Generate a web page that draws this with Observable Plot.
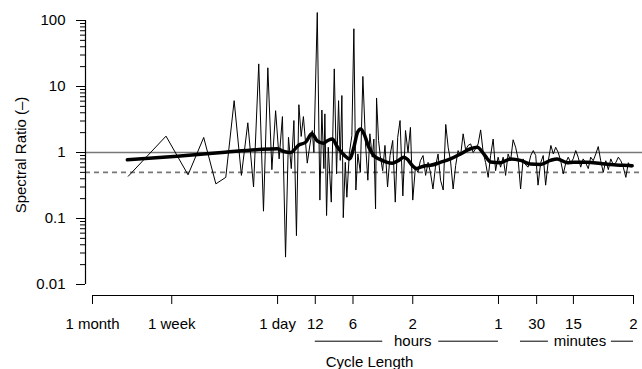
<!DOCTYPE html>
<html><head><meta charset="utf-8">
<script src="https://cdn.jsdelivr.net/npm/d3@7"></script>
<script src="https://cdn.jsdelivr.net/npm/@observablehq/plot@0.6"></script>
<style>html,body{margin:0;padding:0;background:#fff}</style>
</head><body><div id="chart"></div>
<script>
// x = frequency in cycles per day (log axis), y = spectral ratio (log axis)
const xTickValues = [0.0333, 0.1429, 1, 2, 4, 12, 58, 117, 230, 694];
const xTickLabels = ["1 month", "1 week", "1 day", "12", "6", "2", "1", "30", "15", "2"];
const yTickValues = [0.01, 0.1, 1, 10, 100];
const yTickLabels = ["0.01", "0.1", "1", "10", "100"];
const refLevels = [1, 0.5];
const unitLabels = ["hours", "minutes"];
const xTitle = "Cycle Length";
const yTitle = "Spectral Ratio (\u2013)";

// raw spectral ratio (thin line)
const thinFreq = [
  0.0643, 0.1286, 0.1929, 0.2572, 0.3215, 0.3858, 0.4501, 0.5144, 0.5787, 0.643,
  0.7073, 0.7716, 0.8359, 0.9002, 0.9645, 1.0288, 1.0931, 1.1574, 1.2217, 1.286,
  1.3503, 1.4146, 1.4789, 1.5432, 1.6075,
  1.726, 1.811, 1.892, 1.949, 2.074, 2.176, 2.257, 2.342, 2.385, 2.461,
  2.539, 2.683, 2.835, 2.957, 3.068, 3.165, 3.260, 3.345, 3.470, 3.573,
  3.735, 3.918, 4.064, 4.216, 4.374, 4.579, 4.795, 5.039, 5.256, 5.453,
  5.698, 5.868, 6.055, 6.168, 6.399,
  6.6, 6.9, 7.2, 7.55, 7.9, 8.3, 8.7, 9.1, 9.5, 10,
  10.5, 11, 11.5, 12, 12.6, 13.2, 13.8, 14.5, 15.2, 15.9,
  16.6, 17.4, 18.2, 19.1, 20, 21, 22, 23, 24, 25.2,
  26.4, 27.6, 28.9, 30.3, 31.7, 33.2, 34.8, 36.4, 38.1, 39.9,
  41.8, 43.8, 45.8, 48, 50.2, 52.6, 55, 57.6, 60.3, 63.2,
  66.1, 69.2, 72.5, 75.9, 79.5, 83.2, 87.1, 91.2, 95.5, 100,
  105, 110, 115, 120, 126, 132, 138, 145, 152, 159,
  166, 174, 182, 191, 200, 209, 219, 229, 240, 251,
  263, 275, 288, 302, 316, 331, 347, 363, 380, 398,
  417, 437, 457, 479, 501, 525, 550, 575, 603, 631,
  661, 680
];
const thinRatio = [
  0.437, 1.77, 0.459, 1.69, 0.335, 0.42, 6.1, 0.45, 2.82, 0.30,
  22, 0.129, 19.2, 0.55, 4.3, 0.8, 3.5, 0.026, 1.7, 0.57,
  3.05, 0.055, 5.3, 1.75, 3.5,
  0.69, 1.3, 2.15, 1.0, 132, 0.19, 4.4, 0.57, 3.85, 0.111,
  1.2, 0.177, 18.5, 0.475, 6.1, 0.76, 7.3, 0.103, 0.71, 0.21,
  0.95, 1.8, 75, 0.27, 0.95, 0.5, 14.2, 1.35, 0.38, 1.92,
  0.85, 1.6, 0.14, 6.7, 1.52,
  0.9, 0.53, 1.28, 0.30, 0.9, 1.52, 0.177, 1.7, 3.05, 0.22,
  2.15, 1.0, 2.4, 0.19, 0.6, 0.5, 0.75, 0.9, 0.45, 0.71,
  0.5, 0.28, 0.6, 0.95, 0.38, 0.27, 2.66, 1.2, 0.76, 0.28,
  0.635, 1.07, 0.9, 1.92, 1.1, 1.28, 1.35, 1.0, 1.14, 1.35,
  2.2, 1.0, 0.7, 0.42, 0.9, 1.6, 0.53, 0.85, 0.6, 0.85,
  0.45, 0.95, 0.75, 1.56, 1.2, 0.8, 0.28, 0.8, 0.65, 0.6,
  0.9, 1.07, 0.9, 0.32, 0.7, 0.9, 0.32, 0.75, 1.28, 0.95,
  1.2, 1.0, 0.75, 0.475, 0.7, 0.85, 0.7, 0.8, 1.07, 0.85,
  0.6, 0.8, 0.7, 0.57, 0.85, 0.75, 0.95, 1.23, 0.75, 0.5,
  0.75, 0.55, 0.8, 0.65, 0.7, 0.85, 0.75, 0.6, 0.42, 0.7,
  0.6, 0.62
];

// smoothed spectral ratio (thick line)
const smoothFreq = [
  0.0632, 0.1583, 0.3797, 0.7092, 0.9945, 1.1226, 1.2698, 1.4791, 1.6729, 1.8781,
  2.074, 2.316, 2.520, 2.732, 2.996, 3.382, 3.755, 4.064, 4.349, 4.622,
  4.902, 5.354, 5.868, 6.638, 7.507, 8.230, 9.291, 10.185, 10.963, 11.885,
  12.861, 13.846, 15.181, 16.639, 19.993, 24.03, 28.87, 34.70, 39.25, 44.31,
  50.11, 60.22, 72.37, 86.98, 104.5, 125.6, 150.9, 170.7, 205.1, 231.6,
  296.2, 378.4, 483.1, 580.4, 677.4
];
const smoothRatio = [
  0.775, 0.88, 1.01, 1.11, 1.14, 1.035, 1.0, 1.3, 1.43, 1.92,
  1.5, 1.38, 1.52, 1.6, 1.22, 0.92, 0.80, 1.2, 2.03, 2.28,
  1.9, 1.2, 0.9, 0.78, 0.71, 0.69, 0.76, 0.85, 0.775, 0.635,
  0.57, 0.6, 0.63, 0.64, 0.71, 0.80, 0.95, 1.14, 1.2, 0.95,
  0.72, 0.70, 0.80, 0.76, 0.67, 0.66, 0.76, 0.80, 0.70, 0.71,
  0.71, 0.68, 0.65, 0.64, 0.63
];

const thin = thinFreq.map((f, i) => ({f, r: thinRatio[i]}));
const smooth = smoothFreq.map((f, i) => ({f, r: smoothRatio[i]}));
const yLabelMap = new Map(yTickValues.map((v, i) => [v, yTickLabels[i]]));
const xFirst = xTickValues[0], xLast = xTickValues[xTickValues.length - 1];
const yFirst = yTickValues[0], yLast = yTickValues[yTickValues.length - 1];
const gray = "#777";

const chart = Plot.plot({
  width: 642,
  height: 369,
  marginLeft: 85,
  marginRight: 0,
  marginTop: 10,
  marginBottom: 74,
  style: {fontFamily: "'Liberation Sans', Arial, Helvetica, sans-serif", fontSize: "15px", background: "white", color: "black"},
  x: {type: "log", domain: [xFirst, xLast], range: [92, 633], label: null},
  y: {type: "log", domain: [yFirst, yLast], range: [284, 20], label: null},
  marks: [
    Plot.ruleY([refLevels[0]], {stroke: gray, strokeWidth: 1.6}),
    Plot.ruleY([refLevels[1]], {stroke: gray, strokeWidth: 1.6, strokeDasharray: "5,4"}),
    Plot.line(thin, {x: "f", y: "r", stroke: "black", strokeWidth: 1}),
    Plot.line(smooth, {x: "f", y: "r", stroke: "black", strokeWidth: 3.5, curve: "monotone-x"}),
    // y axis
    Plot.ruleX([xFirst], {y1: yFirst, y2: yLast, dx: -7, stroke: "black", strokeWidth: 1.2}),
    Plot.axisY({ticks: 20, tickSize: 5, tickFormat: () => "", label: null}),
    Plot.axisY({ticks: yTickValues, tickSize: 9, tickPadding: 11, tickFormat: d => yLabelMap.get(d), label: null}),
    // x axis
    Plot.ruleY([yFirst], {x1: xFirst, x2: xLast, dy: 11, stroke: "black", strokeWidth: 1.2}),
    Plot.axisX({ticks: xTickValues, tickSize: 9, tickFormat: () => "", label: null}),
    Plot.text(xTickValues, {x: d => d, text: (d, i) => xTickLabels[i], frameAnchor: "bottom", lineAnchor: "top", dy: 23}),
    // unit annotations
    Plot.text([unitLabels[0]], {x: xTickValues[5], frameAnchor: "bottom", lineAnchor: "middle", dy: 45.2, text: d => d}),
    Plot.ruleY([yFirst], {x1: xTickValues[3], x2: xTickValues[5], dy: 56.7, insetRight: 30, stroke: "black"}),
    Plot.ruleY([yFirst], {x1: xTickValues[5], x2: xTickValues[6], dy: 56.7, insetLeft: 26, stroke: "black"}),
    Plot.text([unitLabels[1]], {x: xTickValues[8], frameAnchor: "bottom", lineAnchor: "middle", dx: 6.5, dy: 45.2, text: d => d}),
    Plot.ruleY([yFirst], {x1: xTickValues[6], x2: xTickValues[8], dy: 56.7, insetLeft: 22, insetRight: 25, stroke: "black"}),
    Plot.ruleY([yFirst], {x1: xTickValues[8], x2: xTickValues[9], dy: 56.7, insetLeft: 38, stroke: "black"}),
    // titles
    Plot.text([xTitle], {frameAnchor: "bottom", lineAnchor: "middle", textAnchor: "middle", dx: 5.5, dy: 66.2, text: d => d}),
    Plot.text([yTitle], {frameAnchor: "left", lineAnchor: "middle", textAnchor: "middle", rotate: -90, dx: -64, dy: 2, text: d => d})
  ]
});
document.getElementById("chart").appendChild(chart);
</script>
</body></html>
